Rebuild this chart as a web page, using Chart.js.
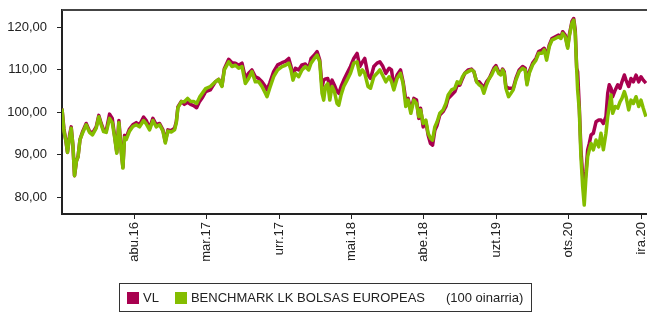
<!DOCTYPE html>
<html>
<head>
<meta charset="utf-8">
<script src="https://cdn.jsdelivr.net/npm/chart.js@4.4.1/dist/chart.umd.min.js"></script>
<style>
  html, body { margin: 0; padding: 0; background: #fff; }
  #wrap { position: relative; width: 647px; height: 314px; }
  #chart { position: absolute; left: 0; top: 0; }
  #legend {
    position: absolute; left: 119px; top: 283px; width: 413px; height: 29px;
    border: 1px solid #333; box-sizing: border-box;
    font: 13px "Liberation Sans", Arial, sans-serif; color: #222;
    display: flex; align-items: center; padding-left: 7px;
  }
  #legend .sw { display: inline-block; width: 12px; height: 12px; margin-right: 4px; }
  #legend .item { display: flex; align-items: center; margin-right: 16px; white-space: nowrap; }
</style>
</head>
<body>
<div id="wrap">
  <canvas id="chart" width="647" height="314"></canvas>
  <div id="legend"></div>
</div>
<script>
// months since jan 2016
const months = [
  0, 0.19, 0.39, 0.53, 0.73, 0.89, 1.06, 1.21, 1.40, 1.55,
  1.74, 1.98, 2.34, 2.66, 2.95, 3.31, 3.56, 3.79, 4.02, 4.28,
  4.60, 4.86, 5.08, 5.30, 5.50, 5.73, 5.89, 6.05, 6.21, 6.53,
  6.85, 7.18, 7.50, 7.89, 8.15, 8.47, 8.79, 9.12, 9.44, 9.76,
  9.99, 10.24, 10.57, 10.89, 11.06, 11.21, 11.54, 11.83, 12.15, 12.44,
  12.73, 13.02, 13.31, 13.60, 13.89, 14.35, 14.83, 15.15, 15.47, 15.70,
  16.12, 16.44, 16.77, 17.09, 17.41, 17.73, 18.05, 18.37, 18.70, 19.02,
  19.34, 19.67, 19.83, 20.09, 20.47, 20.86, 21.28, 21.61, 21.93, 22.15,
  22.34, 22.57, 22.89, 23.21, 23.54, 23.86, 24.09, 24.41, 24.67, 24.93,
  25.15, 25.31, 25.48, 25.70, 25.90, 26.12, 26.35, 26.60, 26.77, 26.99,
  27.25, 27.57, 27.90, 28.22, 28.54, 28.80, 29.06, 29.28, 29.60, 29.84,
  30.16, 30.47, 30.74, 31.00, 31.32, 31.64, 31.87, 32.09, 32.41, 32.74,
  32.99, 33.25, 33.47, 33.74, 34.03, 34.29, 34.51, 34.68, 34.93, 35.19,
  35.41, 35.64, 35.84, 36.06, 36.28, 36.54, 36.86, 37.13, 37.35, 37.68,
  38.00, 38.22, 38.48, 38.74, 38.96, 39.28, 39.61, 39.84, 40.10, 40.35,
  40.58, 40.80, 41.06, 41.32, 41.55, 41.77, 41.97, 42.23, 42.45, 42.61,
  42.77, 42.93, 43.19, 43.42, 43.64, 43.90, 44.22, 44.55, 44.80, 44.97,
  45.19, 45.52, 45.84, 46.10, 46.42, 46.64, 46.87, 47.13, 47.39, 47.71,
  48.03, 48.26, 48.42, 48.67, 48.91, 49.06, 49.32, 49.49, 49.64, 49.78,
  49.87, 50.03, 50.19, 50.36, 50.51, 50.68, 50.84, 51.00, 51.17, 51.39,
  51.65, 51.91, 52.13, 52.36, 52.61, 52.78, 52.93, 53.10, 53.26, 53.51,
  53.75, 53.97, 54.16, 54.39, 54.55, 54.81, 55.03, 55.26, 55.52, 55.78,
  56.00, 56.22, 56.48
];

const vl = [
  100.8, 96, 93, 90.5, 94.5, 96.5, 92, 85, 88.5, 89.5,
  93.5, 95.3, 97.3, 95.5, 95, 96.5, 99.2, 97.3, 95.8, 95.6,
  99.5, 98.5, 94.5, 90.5, 98, 91, 87, 94.5, 94, 96,
  97, 97.5, 97, 98.8, 98, 96.2, 98.5, 97, 97.3, 95.8,
  93, 95.8, 95.6, 96.2, 97.8, 101.2, 102.5, 101.8, 102.3, 101.8,
  101.5, 101, 102.5, 103.5, 104.8, 105.2, 107.1, 107.7, 106.2, 110.2,
  112.4, 111.6, 111.5, 111, 111.5, 108, 109.1, 109.9, 108.3, 107.9,
  107.1, 106, 105.2, 106.8, 109.5, 111.1, 111.6, 111.9, 112.6, 110.7,
  108.3, 110.3, 109.9, 111.1, 111.3, 110.3, 112.6, 113.4, 114.2, 112.2,
  106, 107.5, 107.8, 107.9, 106, 107.5, 106.3, 104.8, 104.4, 106,
  107.5, 109.1, 110.7, 112.6, 113.8, 110.7, 111.8, 112.6, 108.7, 107.9,
  110.7, 111.5, 111.8, 110.9, 109.1, 110.3, 109.9, 106, 108.7, 109.9,
  107.1, 102.8, 103.2, 100.5, 103.2, 102.8, 98.5, 100.9, 96.5, 97.7,
  94.6, 92.6, 92.2, 95.7, 96.9, 99.3, 100.1, 101.3, 103.2, 104,
  104.8, 106.3, 106.3, 107.9, 109.1, 109.9, 110.1, 109.5, 107.1, 107.1,
  106.4, 105.6, 107.1, 107.9, 109.1, 110.3, 110.9, 109.5, 109.1, 110.1,
  109.5, 106, 105.6, 105.6, 105.6, 107.9, 109.9, 110.7, 110.3, 106.8,
  109.5, 111.5, 112.6, 114.2, 114.6, 115, 113, 115.8, 117.3, 117.7,
  118.1, 117.7, 118.9, 118.1, 115.4, 118.1, 121.3, 122, 119.3, 110.3,
  109.5, 101.3, 91.1, 85, 82, 86, 91.1, 92.6, 94.6, 95,
  97.7, 98.1, 98.1, 97.3, 98.9, 104.4, 106.4, 105.6, 103.6, 105.2,
  106.4, 105.6, 107.1, 108.7, 107.5, 106, 107.9, 107.1, 108.7, 107.1,
  108.3, 107.5, 106.8
];

const benchmark = [
  100.8, 95.5, 93, 90.5, 94, 96.2, 92, 85, 88.5, 89.4,
  93.5, 95, 97, 95.2, 94.6, 96.2, 98.9, 97, 95.4, 95.2,
  98.5, 97.5, 94.2, 90.3, 97.5, 90.5, 86.8, 94, 93.5, 95.5,
  96.6, 97, 96.5, 98, 97.2, 95.8, 98, 96.5, 97, 95.5,
  92.7, 95.5, 95.3, 95.8, 97.5, 101, 102.4, 102.4, 103.2, 102.5,
  102.5, 102, 103.5, 104.5, 105.5, 106, 107.1, 107.7, 106, 109.9,
  111.8, 110.7, 111, 110.3, 110.7, 106.7, 107.9, 109.5, 107.1, 107.1,
  106, 104.4, 103.6, 105.6, 108.3, 109.9, 110.7, 111, 111.5, 109.9,
  107.5, 109.1, 108.3, 109.9, 110.7, 109.9, 111.5, 112.6, 113.4, 111.8,
  104.4, 102.8, 106, 106.7, 102.8, 106, 104.8, 102, 101.6, 104,
  106, 107.5, 109.1, 111.5, 111.8, 108.7, 109.9, 109.1, 106, 105.6,
  108.3, 109.1, 109.9, 108.7, 107.1, 108.3, 107.1, 105.2, 107.9, 109.1,
  106.7, 101.3, 102.8, 99.7, 102.8, 102, 98.9, 100.5, 97.3, 98.1,
  95, 93.8, 93.4, 96.5, 97.7, 99.7, 100.5, 102, 104, 105.2,
  105.6, 107.1, 106.7, 108.3, 109.1, 109.5, 109.9, 109.5, 107.1, 106.4,
  106, 104.4, 106.4, 107.9, 108.7, 109.9, 110.5, 109.1, 108.7, 109.9,
  109.1, 105.6, 103.6, 104.4, 105.2, 107.5, 109.5, 110.3, 109.9, 106.4,
  109.1, 111.1, 112.2, 113.8, 113.8, 114.6, 112.2, 115.4, 116.9, 117.3,
  117.7, 117.3, 118.5, 117.7, 115, 117.7, 120.9, 121.6, 118.5, 109.9,
  105.2, 100.5, 89.5, 82.4, 78.1, 84.8, 89.5, 91.1, 92.6, 91.1,
  93.4, 91.8, 95, 91.1, 95, 98.9, 101.3, 104, 99.7, 101.3,
  100.9, 102.4, 103.2, 104.8, 103.6, 100.5, 102.8, 102, 103.6, 101.3,
  102.8, 100.9, 98.9
];

const tickMonths = [7, 14, 21, 28, 35, 42, 49, 56];
const tickLabels = ['abu.16', 'mar.17', 'urr.17', 'mai.18', 'abe.18', 'uzt.19', 'ots.20', 'ira.20'];
const yTicks = [80, 90, 100, 110, 120];

const seriesNames = ['VL', 'BENCHMARK LK BOLSAS EUROPEAS'];
const seriesColors = ['#a8004f', '#84bd00'];
const legendNote = '(100 oinarria)';

const axisColor = '#222';
const font = { family: '"Liberation Sans", Arial, sans-serif', size: 13 };

function toPoints(vals) {
    return vals.map(function(v, i) { return { x: months[i], y: v }; });
}

const topBorder = {
    id: 'topBorder',
    afterDraw(chart) {
        const a = chart.chartArea;
        const ctx = chart.ctx;
        ctx.save();
        ctx.strokeStyle = '#444';
        ctx.lineWidth = 2;
        ctx.beginPath();
        ctx.moveTo(a.left, a.top);
        ctx.lineTo(a.right, a.top);
        ctx.stroke();
        ctx.restore();
    }
};

const ctx = document.getElementById('chart').getContext('2d');
new Chart(ctx, {
    type: 'line',
    data: {
        datasets: [
            { label: seriesNames[0], data: toPoints(vl), borderColor: seriesColors[0], order: 2 },
            { label: seriesNames[1], data: toPoints(benchmark), borderColor: seriesColors[1], order: 1 }
        ]
    },
    options: {
        responsive: false,
        animation: false,
        devicePixelRatio: 1,
        layout: { padding: { top: 10, left: 0, right: 0, bottom: 0 } },
        elements: {
            point: { radius: 0 },
            line: { borderWidth: 3.5, tension: 0, borderJoinStyle: 'round' }
        },
        plugins: { legend: { display: false }, tooltip: { enabled: false } },
        scales: {
            x: {
                type: 'linear',
                min: 0,
                max: 56.58,
                afterBuildTicks: function(scale) {
                    scale.ticks = tickMonths.map(function(v) { return { value: v }; });
                },
                afterFit: function(scale) {
                    scale.height = 100;
                    scale.paddingLeft = 0;
                    scale.paddingRight = 0;
                },
                ticks: {
                    autoSkip: false,
                    minRotation: 90,
                    maxRotation: 90,
                    padding: 3,
                    color: axisColor,
                    font: font,
                    callback: function(v, i) { return tickLabels[i]; }
                },
                grid: { drawOnChartArea: false, drawTicks: true, tickLength: 5, tickColor: axisColor },
                border: { color: axisColor, width: 2 }
            },
            y: {
                min: 76,
                max: 124,
                afterBuildTicks: function(scale) {
                    scale.ticks = yTicks.map(function(v) { return { value: v }; });
                },
                afterFit: function(scale) {
                    scale.width = 62;
                    scale.paddingTop = 0;
                    scale.paddingBottom = 0;
                },
                ticks: {
                    padding: 10,
                    color: axisColor,
                    font: font,
                    callback: function(v) { return v.toFixed(2).replace('.', ','); }
                },
                grid: { drawOnChartArea: false, drawTicks: true, tickLength: 5, tickColor: axisColor },
                border: { color: axisColor, width: 2 }
            }
        }
    },
    plugins: [topBorder]
});

// legend box below the chart
const legend = document.getElementById('legend');
seriesNames.forEach(function(name, i) {
    const item = document.createElement('span');
    item.className = 'item';
    const sw = document.createElement('span');
    sw.className = 'sw';
    sw.style.background = seriesColors[i];
    item.appendChild(sw);
    item.appendChild(document.createTextNode(name));
    legend.appendChild(item);
});
const note = document.createElement('span');
note.style.marginLeft = '5px';
note.textContent = legendNote;
legend.appendChild(note);
</script>
</body>
</html>
